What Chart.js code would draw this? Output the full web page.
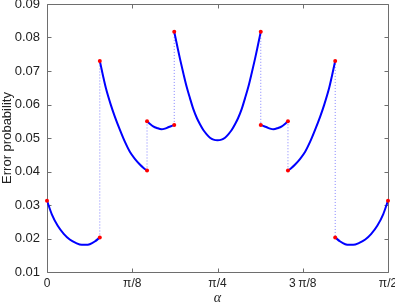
<!DOCTYPE html>
<html>
<head>
<meta charset="utf-8">
<script src="https://cdn.jsdelivr.net/npm/chart.js@4"></script>
<style>
  html, body { margin: 0; padding: 0; background: #fff; }
  canvas { display: block; }
</style>
</head>
<body>
<canvas id="chart" width="395" height="304"></canvas>
<script>
// ── Data (alpha in radians, error probability) ─────────────────────
const alpha1 = [0, 0.0217, 0.0494, 0.0771, 0.1048, 0.1324, 0.1601, 0.1786, 0.1970, 0.2201, 0.2432];
const perr1  = [0.0313, 0.0273, 0.0238, 0.0214, 0.0197, 0.0187, 0.0181, 0.0181, 0.0183, 0.0191, 0.0203];

const alpha2 = [0.2432, 0.2570, 0.2709, 0.2940, 0.3124, 0.3355, 0.3586, 0.3816, 0.4047, 0.4278, 0.4462, 0.4608];
const perr2  = [0.0730, 0.0689, 0.0650, 0.0599, 0.0564, 0.0525, 0.0489, 0.0459, 0.0438, 0.0421, 0.0410, 0.0403];

const alpha3 = [0.4608, 0.4762, 0.4891, 0.5062, 0.5279, 0.5431, 0.5584, 0.5708, 0.5861];
const perr3  = [0.0550, 0.0541, 0.0535, 0.0530, 0.0526, 0.0528, 0.0532, 0.0535, 0.0539];

const alpha4 = [0.5861, 0.5985, 0.6124, 0.6285, 0.6433, 0.6585, 0.6737, 0.6908, 0.7047, 0.7208, 0.7356, 0.7508, 0.7669, 0.7854,
                0.8039, 0.8200, 0.8352, 0.8500, 0.8661, 0.8800, 0.8971, 0.9123, 0.9275, 0.9423, 0.9584, 0.9723, 0.9847];
const perr4  = [0.0817, 0.0779, 0.0737, 0.0692, 0.0653, 0.0619, 0.0587, 0.0559, 0.0541, 0.0523, 0.0511, 0.0501, 0.0495, 0.0493,
                0.0495, 0.0501, 0.0511, 0.0523, 0.0541, 0.0559, 0.0587, 0.0619, 0.0653, 0.0692, 0.0737, 0.0779, 0.0817];

const alpha5 = [0.9847, 1.0000, 1.0124, 1.0277, 1.0429, 1.0646, 1.0817, 1.0946, 1.1100];
const perr5  = [0.0539, 0.0535, 0.0532, 0.0528, 0.0526, 0.0530, 0.0535, 0.0541, 0.0550];

const alpha6 = [1.1100, 1.1246, 1.1430, 1.1661, 1.1892, 1.2122, 1.2353, 1.2584, 1.2768, 1.2999, 1.3138, 1.3276];
const perr6  = [0.0403, 0.0410, 0.0421, 0.0438, 0.0459, 0.0489, 0.0525, 0.0564, 0.0599, 0.0650, 0.0689, 0.0730];

const alpha7 = [1.3276, 1.3507, 1.3738, 1.3922, 1.4107, 1.4384, 1.4660, 1.4937, 1.5214, 1.5491, 1.5708];
const perr7  = [0.0203, 0.0191, 0.0183, 0.0181, 0.0181, 0.0187, 0.0197, 0.0214, 0.0238, 0.0273, 0.0313];

const xTickValues = [0, 0.392699, 0.785398, 1.178097, 1.570796];
const xTickLabels = ['0', 'π/8', 'π/4', '3\u2009π/8', 'π/2'];
const yMin = 0.01, yMax = 0.09, yStep = 0.01;

// ── Build datasets ─────────────────────────────────────────────────
const segA = [alpha1, alpha2, alpha3, alpha4, alpha5, alpha6, alpha7];
const segE = [perr1, perr2, perr3, perr4, perr5, perr6, perr7];
const segPts = segA.map((xs, i) => xs.map((x, j) => ({ x, y: segE[i][j] })));

const endDots = [];
segPts.forEach(p => { endDots.push(p[0]); endDots.push(p[p.length - 1]); });

const datasets = [{
  data: endDots, showLine: false, pointRadius: 2, pointHoverRadius: 2,
  pointBackgroundColor: '#ff0000', pointBorderWidth: 0, order: 0, clip: 4
}];

segPts.forEach(p => datasets.push({
  data: p, showLine: true, borderColor: '#0000ff', borderWidth: 2, pointRadius: 0,
  cubicInterpolationMode: 'monotone', fill: false, order: 1
}));

// dotted vertical joins between consecutive segments
for (let i = 0; i < segPts.length - 1; i++) {
  const a = segPts[i][segPts[i].length - 1], b = segPts[i + 1][0];
  datasets.push({
    data: [a, b], showLine: true, borderColor: 'rgba(90,90,255,0.75)', borderWidth: 1,
    borderDash: [1, 2], pointRadius: 0, fill: false, order: 2
  });
}

// ── Gray box with inward ticks on all four sides ───────────────────
const boxTicks = {
  id: 'boxTicks',
  beforeDatasetsDraw(chart) {
    const { ctx, chartArea: a } = chart;
    const x = chart.scales.x, y = chart.scales.y;
    const L = Math.round(a.left) + 0.5, R = Math.round(a.right) + 0.5;
    const T = Math.round(a.top) + 0.5, B = Math.round(a.bottom) + 0.5;
    const tl = 4;
    ctx.save();
    ctx.strokeStyle = '#6e6e6e';
    ctx.lineWidth = 1;
    ctx.beginPath();
    ctx.rect(L, T, R - L, B - T);
    x.ticks.forEach(t => {
      const px = Math.round(x.getPixelForValue(t.value)) + 0.5;
      ctx.moveTo(px, B); ctx.lineTo(px, B - tl);
      ctx.moveTo(px, T); ctx.lineTo(px, T + tl);
    });
    y.ticks.forEach(t => {
      const py = Math.round(y.getPixelForValue(t.value)) + 0.5;
      ctx.moveTo(L, py); ctx.lineTo(L + tl, py);
      ctx.moveTo(R, py); ctx.lineTo(R - tl, py);
    });
    ctx.stroke();
    ctx.restore();
  }
};

Chart.defaults.font.family = "'Liberation Sans', Arial, sans-serif";
Chart.defaults.font.size = 13;
Chart.defaults.color = '#222';

new Chart(document.getElementById('chart').getContext('2d'), {
  type: 'scatter',
  data: { datasets },
  options: {
    responsive: false, animation: false,
    layout: { padding: { left: 0, right: 7, top: 4, bottom: 0 } },
    plugins: { legend: { display: false }, tooltip: { enabled: false } },
    scales: {
      x: {
        type: 'linear', min: xTickValues[0], max: xTickValues[xTickValues.length - 1],
        grid: { display: false, drawTicks: false }, border: { display: false },
        afterBuildTicks: s => { s.ticks = xTickValues.map(v => ({ value: v })); },
        afterFit: s => { s.height = 32; s.paddingLeft = 0; s.paddingRight = 0; },
        ticks: { padding: 4, maxRotation: 0, autoSkip: false, font: { size: 12 },
                 callback: (v, i) => xTickLabels[i] },
        title: { display: true, text: 'α', padding: { top: 0, bottom: -3 },
                 font: { family: "'Liberation Serif', serif", style: 'italic', size: 14 } }
      },
      y: {
        min: yMin, max: yMax,
        grid: { display: false, drawTicks: false }, border: { display: false },
        afterFit: s => { s.width = 47; s.paddingTop = 0; s.paddingBottom = 0; },
        ticks: { stepSize: yStep, padding: 7, callback: v => v.toFixed(2) },
        title: { display: true, text: 'Error probability', padding: 0 }
      }
    }
  },
  plugins: [boxTicks]
});
</script>
</body>
</html>
